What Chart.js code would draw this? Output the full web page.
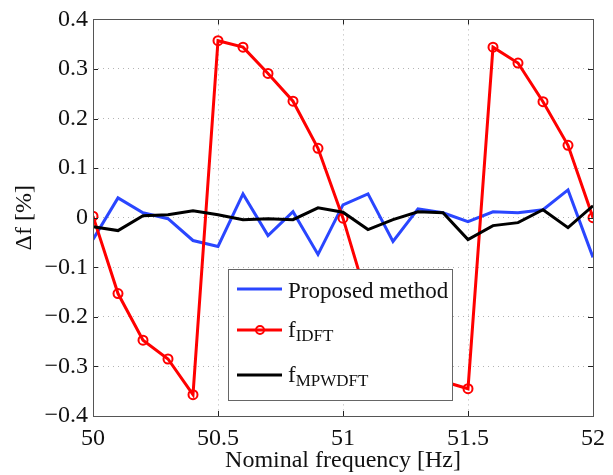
<!DOCTYPE html>
<html>
<head>
<meta charset="UTF-8">
<title>Frequency error</title>
<script src="https://cdn.jsdelivr.net/npm/chart.js"></script>
<style>
  body { margin: 0; background: #fff; }
  #wrap { width: 613px; height: 475px; }
</style>
</head>
<body>
<div id="wrap"><canvas id="c" width="613" height="475"></canvas></div>
<script>
// nominal frequency [Hz]
const freqs = [50.0, 50.1, 50.2, 50.3, 50.4, 50.5, 50.6, 50.7, 50.8, 50.9, 51.0,
               51.1, 51.2, 51.3, 51.4, 51.5, 51.6, 51.7, 51.8, 51.9, 52.0];
// Δf [%]
const proposed = [-0.044, 0.040, 0.010, -0.002, -0.046, -0.058, 0.048, -0.036, 0.012, -0.074, 0.026,
                  0.048, -0.048, 0.018, 0.010, -0.008, 0.012, 0.010, 0.016, 0.056, -0.080];
const idft = [0.003, -0.153, -0.247, -0.285, -0.357, 0.357, 0.344, 0.291, 0.235, 0.140, -0.001,
              -0.170, -0.245, -0.285, -0.330, -0.345, 0.344, 0.312, 0.234, 0.146, 0.000];
const mpwdft = [-0.018, -0.026, 0.004, 0.006, 0.014, 0.006, -0.004, -0.002, -0.004, 0.020, 0.011,
                -0.024, -0.004, 0.012, 0.010, -0.044, -0.016, -0.010, 0.016, -0.020, 0.024];
const xTicks = [50, 50.5, 51, 51.5, 52];
const yTicks = [-0.4, -0.3, -0.2, -0.1, 0, 0.1, 0.2, 0.3, 0.4];

const FONT = 'Liberation Serif';
const BLUE = '#2a46ff', RED = '#ff0000', BLACK = '#000000';

function pts(arr) { return freqs.map((f, i) => ({ x: f, y: arr[i] })); }

// frame + inward tick marks
const framePlugin = {
  id: 'frame',
  afterDatasetsDraw(chart) {
    const { ctx, chartArea: a, scales } = chart;
    ctx.save();
    ctx.strokeStyle = '#222';
    ctx.lineWidth = 1;
    ctx.beginPath();
    xTicks.forEach(v => {
      const x = Math.round(scales.x.getPixelForValue(v)) + 0.5;
      ctx.moveTo(x, a.bottom); ctx.lineTo(x, a.bottom - 5);
      ctx.moveTo(x, a.top); ctx.lineTo(x, a.top + 5);
    });
    yTicks.forEach(v => {
      const y = Math.round(scales.y.getPixelForValue(v)) + 0.5;
      ctx.moveTo(a.left, y); ctx.lineTo(a.left + 5, y);
      ctx.moveTo(a.right, y); ctx.lineTo(a.right - 5, y);
    });
    ctx.stroke();
    ctx.strokeStyle = '#555';
    ctx.strokeRect(Math.round(a.left) + 0.5, Math.round(a.top) + 0.5,
                   Math.round(a.right - a.left), Math.round(a.bottom - a.top));
    ctx.restore();
  }
};

// legend box inside the plot
const legendPlugin = {
  id: 'boxLegend',
  afterDraw(chart) {
    const ctx = chart.ctx;
    const bx = 228, by = 269, bw = 224, bh = 131;
    ctx.save();
    ctx.fillStyle = '#fff';
    ctx.fillRect(bx, by, bw, bh);
    ctx.strokeStyle = '#666';
    ctx.lineWidth = 1;
    ctx.strokeRect(bx + 0.5, by + 0.5, bw, bh);
    const rows = [
      { y: 289, color: BLUE, main: 'Proposed method', sub: '' , marker: false },
      { y: 330, color: RED, main: 'f', sub: 'IDFT', marker: true },
      { y: 375, color: BLACK, main: 'f', sub: 'MPWDFT', marker: false }
    ];
    rows.forEach(r => {
      ctx.strokeStyle = r.color;
      ctx.lineWidth = 3;
      ctx.beginPath();
      ctx.moveTo(237, r.y); ctx.lineTo(282, r.y);
      ctx.stroke();
      if (r.marker) {
        ctx.lineWidth = 2;
        ctx.beginPath();
        ctx.arc(260, r.y, 4, 0, Math.PI * 2);
        ctx.stroke();
      }
      ctx.fillStyle = '#111';
      ctx.textAlign = 'left';
      ctx.textBaseline = 'alphabetic';
      ctx.font = '23px "' + FONT + '"';
      if (r.sub) {
        ctx.fillText(r.main, 288, r.y + 7);
        const w = ctx.measureText(r.main).width;
        ctx.font = '17px "' + FONT + '"';
        ctx.fillText(r.sub, 288 + w, r.y + 11);
      } else {
        ctx.fillText(r.main, 288, r.y + 9);
      }
    });
    ctx.restore();
  }
};

new Chart(document.getElementById('c'), {
  type: 'line',
  data: {
    datasets: [
      { label: 'Proposed method', data: pts(proposed), borderColor: BLUE, borderWidth: 3,
        pointRadius: 0, tension: 0, order: 2 },
      { label: 'f IDFT', data: pts(idft), borderColor: RED, borderWidth: 3,
        pointRadius: 4.5, pointBorderWidth: 2, pointBackgroundColor: 'rgba(0,0,0,0)',
        pointBorderColor: RED, tension: 0, order: 1 },
      { label: 'f MPWDFT', data: pts(mpwdft), borderColor: BLACK, borderWidth: 3,
        pointRadius: 0, tension: 0, order: 0 }
    ]
  },
  options: {
    responsive: false,
    animation: false,
    layout: { padding: { left: 0, right: 13, top: 16, bottom: 0 } },
    plugins: { legend: { display: false }, tooltip: { enabled: false } },
    scales: {
      x: {
        type: 'linear', min: 50, max: 52,
        afterBuildTicks: s => { s.ticks = xTicks.map(v => ({ value: v })); },
        afterFit: s => { s.height = 59; },
        ticks: { color: '#111', font: { family: FONT, size: 24 }, padding: 8,
                 maxRotation: 0, autoSkip: false, callback: v => String(v) },
        grid: { color: '#b4b4b4', lineWidth: 1, drawTicks: false },
        border: { display: false, dash: [1, 4] },
        title: { display: true, text: 'Nominal frequency [Hz]', color: '#111',
                 font: { family: FONT, size: 24 }, padding: { top: 0, bottom: 0 } }
      },
      y: {
        min: -0.4, max: 0.4,
        afterBuildTicks: s => { s.ticks = yTicks.map(v => ({ value: v })); },
        afterFit: s => { s.width = 93; },
        ticks: { color: '#111', font: { family: FONT, size: 24 }, padding: 5,
                 callback: v => v === 0 ? '0' : (v < 0 ? '\u2212' : '') + Math.abs(v).toFixed(1) },
        grid: { color: '#b4b4b4', lineWidth: 1, drawTicks: false },
        border: { display: false, dash: [1, 4] },
        title: { display: true, text: '\u0394f [%]', color: '#111',
                 font: { family: FONT, size: 24 }, padding: { top: 10, bottom: 0 } }
      }
    }
  },
  plugins: [framePlugin, legendPlugin]
});
</script>
</body>
</html>
